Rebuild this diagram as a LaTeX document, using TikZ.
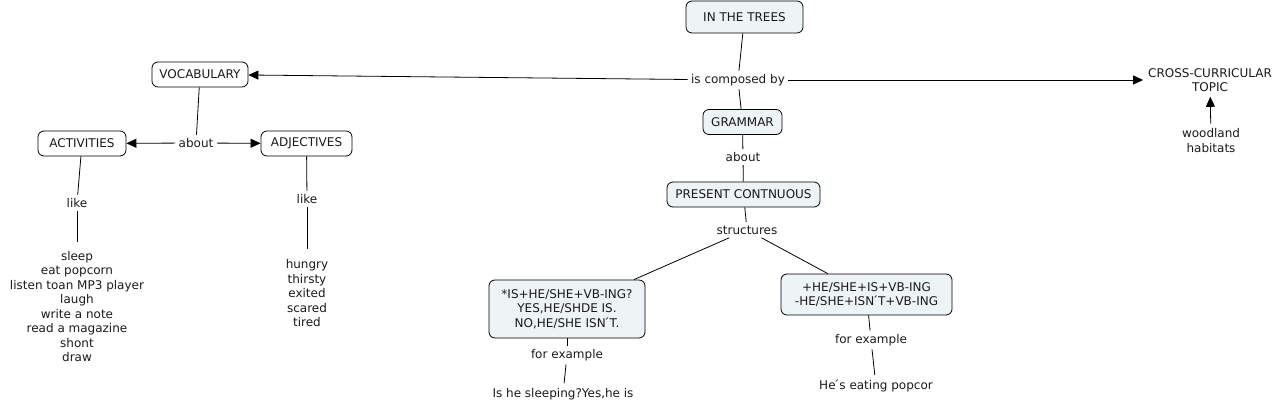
\documentclass[tikz,border=0pt]{standalone}
\usepackage{fontspec}
\setmainfont{DejaVu Sans}
\usetikzlibrary{arrows.meta}
\definecolor{boxfill}{HTML}{EEF3F6}
\definecolor{txt}{HTML}{1A1A1A}
\tikzset{
  concept/.style={draw=black, rounded corners=6pt, line width=0.8pt, text=txt,
    inner xsep=7pt, inner ysep=0pt, minimum height=25pt, align=center,
    font=\fontsize{12}{14.5}\selectfont},
  filled/.style={concept, fill=boxfill},
  plain/.style={concept, fill=white},
  lab/.style={text=txt, inner sep=1.5pt, outer sep=2pt, align=center,
    font=\fontsize{12}{14.5}\selectfont},
  free/.style={text=txt, inner sep=1pt, outer sep=4pt, align=center,
    font=\fontsize{12}{14.5}\selectfont},
  link/.style={draw=black, line width=0.8pt},
  arr/.style={link, -{Triangle[length=10pt,width=9pt]}},
}
\begin{document}
\begin{tikzpicture}[x=1pt,y=-1pt]
\useasboundingbox (0,0) rectangle (1285,412);
% concepts
\node[filled, minimum width=117pt, minimum height=32pt] (trees) at (744.5,17) {IN THE TREES};
\node[lab] (comp) at (738,80) {is composed by};
\node[plain, minimum width=96pt] (voc) at (200,74.5) {VOCABULARY};
\node[free] (cross) at (1210,80) {CROSS-CURRICULAR\\TOPIC};
\node[free] (wood) at (1211,140.5) {woodland\\habitats};
\node[filled, minimum width=79pt] (gram) at (742.5,122) {GRAMMAR};
\node[lab] (about2) at (743,157) {about};
\node[filled, minimum width=153pt] (pres) at (743.5,194.5) {PRESENT CONTNUOUS};
\node[lab] (struct) at (747,230) {structures};
\node[filled, minimum width=156pt, minimum height=58pt] (qbox) at (567,309) {*IS+HE/SHE+VB-ING?\\YES,HE/SHDE IS.\\NO,HE/SHE ISN\'{}T.};
\node[filled, minimum width=171pt, minimum height=41pt] (abox) at (866.5,294.5) {+HE/SHE+IS+VB-ING\\-HE/SHE+ISN\'{}T+VB-ING};
\node[lab] (ex1) at (567,355) {for example};
\node[lab] (ex2) at (871,340) {for example};
\node[free] (ex1t) at (563,394) {Is he sleeping?Yes,he is};
\node[free] (ex2t) at (876,386) {He\'{}s eating popcor};
\node[plain, minimum width=88pt] (act) at (82,143.5) {ACTIVITIES};
\node[lab] (about1) at (196,143) {about};
\node[plain, minimum width=91pt] (adj) at (306.5,143.5) {ADJECTIVES};
\node[lab] (like1) at (77,203) {like};
\node[lab] (like2) at (307,199) {like};
\node[free, outer sep=8pt] (actlist) at (77,306.5) {sleep\\eat popcorn\\listen toan MP3 player\\laugh\\write a note\\read a magazine\\shont\\draw};
\node[free, outer sep=10pt] (adjlist) at (307,293.5) {hungry\\thirsty\\exited\\scared\\tired};
% connectors
\draw[link] (trees) -- (comp);
\draw[link] (comp) -- (gram);
\draw[arr] (comp) -- (voc);
\draw[arr] (comp) -- (cross);
\draw[arr] (wood) -- (cross);
\draw[link] (voc) -- (about1);
\draw[arr] (about1) -- (act);
\draw[arr] (about1) -- (adj);
\draw[link] (act) -- (like1);
\draw[link] (like1) -- (actlist);
\draw[link] (adj) -- (like2);
\draw[link] (like2) -- (adjlist);
\draw[link] (gram) -- (about2);
\draw[link] (about2) -- (pres);
\draw[link] (pres) -- (struct);
\draw[link] (struct) -- (qbox);
\draw[link] (struct) -- (abox);
\draw[link] (qbox) -- (ex1);
\draw[link] (ex1) -- (ex1t);
\draw[link] (abox) -- (ex2);
\draw[link] (ex2) -- (ex2t);
\end{tikzpicture}
\end{document}
